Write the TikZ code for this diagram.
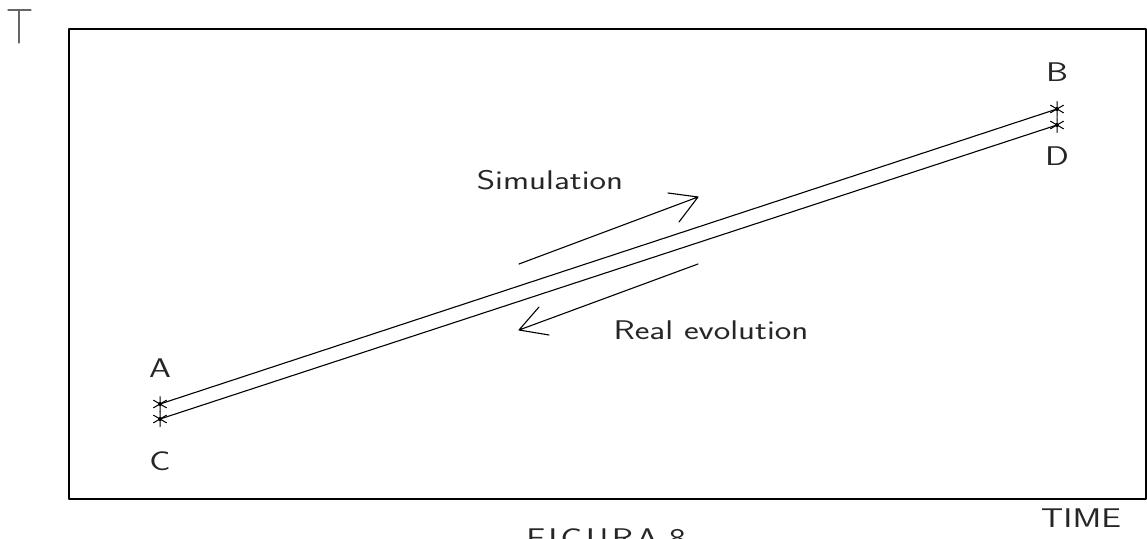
\documentclass[tikz,border=0pt]{standalone}
\usepackage{fontspec}
\setmainfont{Latin Modern Sans}[FakeStretch=1.3]
\begin{document}
\begin{tikzpicture}[x=1pt,y=-1pt,line cap=round,line join=round,
  thinline/.style={line width=1.1pt,black},
  lbl/.style={font=\fontsize{27}{27}\selectfont,inner sep=0pt,text=black!85},
  starmark/.pic={
    \draw[line width=1pt] (0,-7.5) -- (0,7.5) (-6.5,-3.8) -- (6.5,3.8) (-6.5,3.8) -- (6.5,-3.8);
    \fill (0,0) circle (2);
  }]
\useasboundingbox (0,0) rectangle (1147,538);
% frame
\draw[thinline] (69,29) rectangle (1146,499);
% axis labels
\draw[line width=1.3pt,black!60] (8,10) -- (31,10) (19,10) -- (19,43);
\node[lbl] (time) at (1081,518) {TIME};
\node[lbl,anchor=north] (fig) at (606,529) {F\hspace{0.12em}I\hspace{0.12em}G\hspace{0.12em}U\hspace{0.12em}R\hspace{0.12em}A\hspace{0.4em}8};
% points
\coordinate (A) at (160,404);
\coordinate (C) at (160,419);
\coordinate (B) at (1057,109);
\coordinate (D) at (1057,125);
\draw[thinline] (A) -- (B);
\draw[thinline] (C) -- (D);
\pic at (A) {starmark};
\pic at (C) {starmark};
\pic at (B) {starmark};
\pic at (D) {starmark};
\node[lbl] (la) at (160,368) {A};
\node[lbl] (lc) at (160,461) {C};
\node[lbl] (lb) at (1057,72) {B};
\node[lbl] (ld) at (1057,156) {D};
% arrows
\coordinate (s1) at (519,264);
\coordinate (s2) at (698,197);
\coordinate (sa) at (668,193);
\coordinate (sb) at (679,222);
\draw[thinline] (s1) -- (s2) (sa) -- (s2) -- (sb);
\coordinate (r1) at (698,264);
\coordinate (r2) at (519,330);
\coordinate (ra) at (539,307);
\coordinate (rb) at (549,335);
\draw[thinline] (r1) -- (r2) (ra) -- (r2) -- (rb);
\node[lbl] (sim) at (550,180) {Simulation};
\node[lbl] (real) at (711,330) {Real evolution};
\end{tikzpicture}
\end{document}
